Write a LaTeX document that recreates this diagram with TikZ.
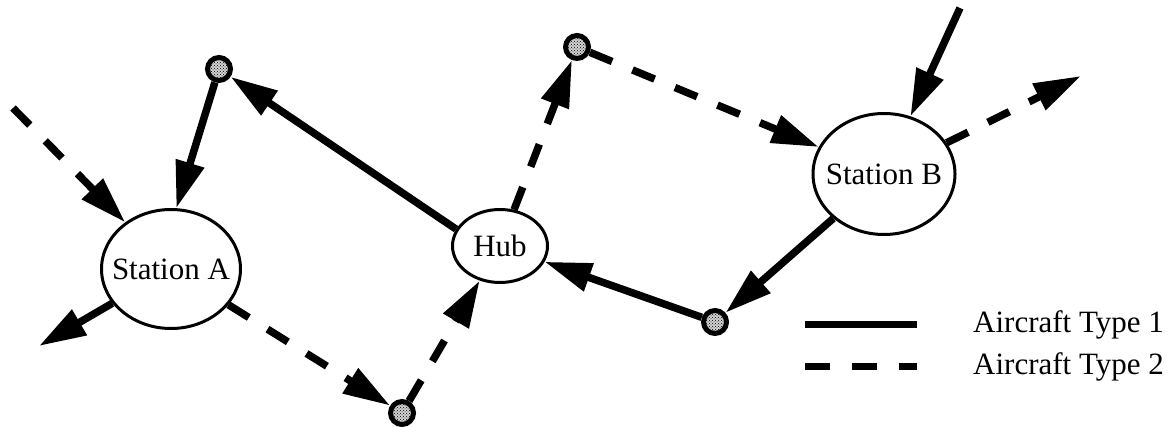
\documentclass[tikz,border=0pt]{standalone}
\usepackage{fontspec}
\setmainfont{Liberation Serif}
\usetikzlibrary{arrows.meta,shapes.geometric,patterns}
\begin{document}
\begin{tikzpicture}[x=1pt,y=-1pt,
  station/.style={draw,ellipse,line width=3pt,inner sep=0pt,fill=white},
  waypt/.style={draw,circle,line width=5pt,minimum size=23pt,inner sep=0pt,
    preaction={fill=gray!35},pattern=crosshatch dots},
  route/.style={line width=7.5pt,-{Triangle[length=47pt,width=28pt]}},
  typeone/.style={route},
  typetwo/.style={route,dash pattern=on 24pt off 22pt},
  legtext/.style={anchor=west,inner sep=0pt},
  every label/.style={inner sep=0pt,font=\fontsize{31}{36}\selectfont}]
\useasboundingbox (0,0) rectangle (1176,427);
\fontsize{31}{36}\selectfont
% nodes
\node[station,minimum width=139pt,minimum height=119pt,label=center:Station A] (sa) at (171,269) {};
\node[station,minimum width=95pt,minimum height=73pt,label=center:Hub] (hub) at (500,246) {};
\node[station,minimum width=142pt,minimum height=121pt,label=center:Station B] (sb) at (884,174) {};
\node[waypt] (c1) at (219,69) {};
\node[waypt] (c2) at (577,47) {};
\node[waypt] (c3) at (402,413) {};
\node[waypt] (c4) at (715,322) {};
\coordinate (ain) at (13,108);
\coordinate (aout) at (39,346);
\coordinate (bin) at (960,8);
\coordinate (bout) at (1081,76);
% routes
\draw[typeone] (hub.159) -- (c1);
\draw[typeone] (c1) -- (sa.85);
\draw[typetwo] (ain) -- (sa);
\draw[typeone] (sa) -- (aout);
\draw[typetwo] (sa) -- (c3);
\draw[typetwo] (c3) -- (hub);
\draw[typetwo] (hub) -- (c2);
\draw[typetwo] (c2) -- (sb);
\draw[typeone] (bin) -- (sb);
\draw[typetwo] (sb) -- (bout);
\draw[typeone] (sb) -- (c4);
\draw[typeone] (c4) -- (hub);
% legend
\coordinate (l1a) at (805,325);
\coordinate (l1b) at (917,325);
\coordinate (l2a) at (805,367);
\coordinate (l2b) at (917,367);
\draw[line width=7pt] (l1a) -- (l1b);
\draw[line width=7pt,dash pattern=on 25pt off 22pt] (l2a) -- (l2b);
\node[legtext] (t1) at (973,325) {Aircraft Type 1};
\node[legtext] (t2) at (973,367) {Aircraft Type 2};
\end{tikzpicture}
\end{document}
